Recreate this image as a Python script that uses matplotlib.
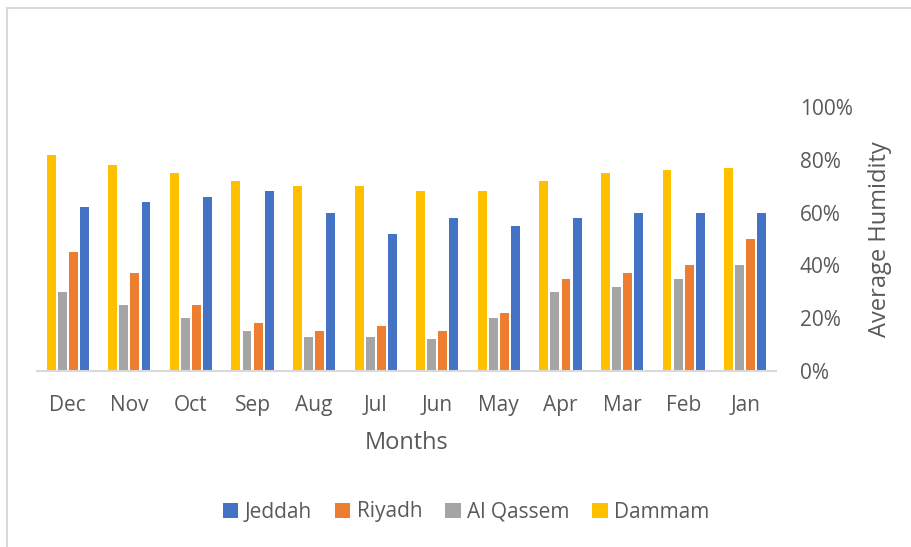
import numpy as np
import matplotlib
matplotlib.use("Agg")
import matplotlib.pyplot as plt
from matplotlib.lines import Line2D

# average humidity per city, Jan..Dec (x axis is drawn reversed)
months = ["Jan", "Feb", "Mar", "Apr", "May", "Jun",
          "Jul", "Aug", "Sep", "Oct", "Nov", "Dec"]
jeddah = [60, 60, 60, 58, 55, 58, 52, 60, 68, 66, 64, 62]
riyadh = [50, 40, 37, 35, 22, 15, 17, 15, 18, 25, 37, 45]
al_qassem = [40, 35, 32, 30, 20, 12, 13, 13, 15, 20, 25, 30]
dammam = [77, 76, 75, 72, 68, 68, 70, 70, 72, 75, 78, 82]

series = [("Jeddah", jeddah, "#4472C4"),
          ("Riyadh", riyadh, "#ED7D31"),
          ("Al Qassem", al_qassem, "#A5A5A5"),
          ("Dammam", dammam, "#FFC000")]

TXT = "#595959"
plt.rcParams["font.family"] = ["Open Sans", "DejaVu Sans"]

fig = plt.figure(figsize=(9.12, 5.47), dpi=100)
ax = fig.add_axes([37 / 912, 1 - 371 / 547, (776 - 37) / 912, (371 - 107) / 547])

x = np.arange(len(months))
width = 0.146
pitch = 0.18
for i, (name, vals, color) in enumerate(series):
    ax.bar(x + (i - 1.5) * pitch, np.array(vals) / 100, width,
           color=color, label=name, zorder=2)

ax.set_xlim(len(months) - 0.5, -0.5)
ax.set_ylim(0, 1.0)
ax.set_xticks(x)
ax.set_xticklabels(months, fontsize=15, color=TXT)
ax.set_yticks(np.arange(0, 1.01, 0.2))
ax.set_yticklabels([f"{int(v * 100)}%" for v in np.arange(0, 1.01, 0.2)],
                   fontsize=15, color=TXT)
ax.yaxis.tick_right()
ax.yaxis.set_label_position("right")
ax.tick_params(axis="both", length=0)
ax.tick_params(axis="x", pad=17)
ax.tick_params(axis="y", pad=17)
for side in ["top", "left", "right"]:
    ax.spines[side].set_visible(False)
ax.spines["bottom"].set_color("#D9D9D9")
ax.spines["bottom"].set_linewidth(1.5)

ax.set_xlabel("Months", fontsize=17, color=TXT, labelpad=11)
ax.set_ylabel("Average Humidity", fontsize=17, color=TXT, labelpad=11)

leg = fig.legend(loc="center", bbox_to_anchor=(466 / 912, 1 - 512 / 547),
                 ncol=4, frameon=False, fontsize=15, handlelength=0.75,
                 handleheight=0.75, handletextpad=0.3, columnspacing=1.1)
for t in leg.get_texts():
    t.set_color(TXT)

# outline of the chart box
fig.add_artist(Line2D([7 / 912, 7 / 912], [0, 1 - 8 / 547],
                      color="#D9D9D9", lw=1.5, transform=fig.transFigure))
fig.add_artist(Line2D([7 / 912, 1], [1 - 8 / 547, 1 - 8 / 547],
                      color="#D9D9D9", lw=1.5, transform=fig.transFigure))

fig.savefig("out.png", dpi=100, facecolor="white")
